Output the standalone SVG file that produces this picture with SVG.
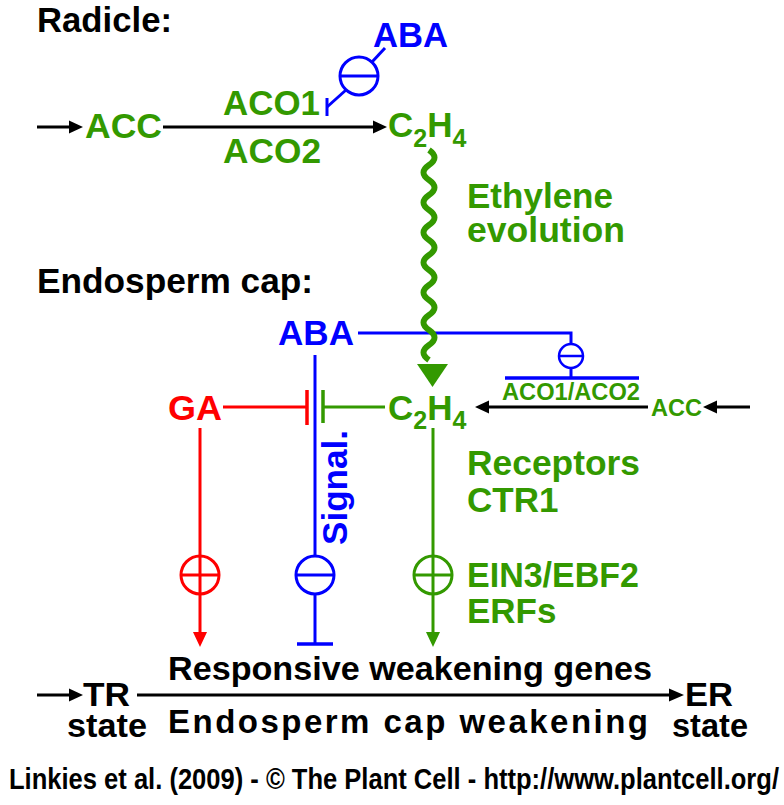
<svg xmlns="http://www.w3.org/2000/svg" width="784" height="805" viewBox="0 0 784 805">
<style>
text{font-family:"Liberation Sans",Arial,sans-serif;font-weight:bold}
.g{fill:#339900}.b{fill:#0000ff}.r{fill:#ff0000}.k{fill:#000}
.lg{stroke:#339900;fill:none;stroke-width:3}
.lb{stroke:#0000ff;fill:none;stroke-width:3}
.lr{stroke:#ff0000;fill:none;stroke-width:3}
.lk{stroke:#000;fill:none;stroke-width:3}
.bar{stroke-width:3.5}
.thin{stroke-width:2.5}
.wave{stroke-width:6}
.s35{font-size:35px}.s24{font-size:24px}.s33{font-size:33px}
</style>
<rect width="784" height="805" fill="#fff"/>
<g id="connectors">
  <line class="lk" x1="37" y1="127" x2="70" y2="127"/>
  <polygon points="69,120.5 83,127 69,133.5" fill="#000"/>
  <line class="lk" x1="163" y1="127" x2="375" y2="127"/>
  <polygon points="373,120.5 387,127 373,133.5" fill="#000"/>
  <line class="lb" x1="327" y1="98" x2="327" y2="116"/>
  <line class="lb" x1="327" y1="107" x2="346" y2="90"/>
  <circle class="lb" cx="359" cy="76" r="19"/>
  <line class="lb" x1="340" y1="76" x2="378" y2="76"/>
  <line class="lb" x1="372" y1="62" x2="385" y2="48"/>
  <polyline class="lb" points="358,333 571,333 571,344"/>
  <circle class="lb thin" cx="571" cy="356" r="12"/>
  <line class="lb thin" x1="559" y1="356" x2="583" y2="356"/>
  <line class="lb" x1="571" y1="368" x2="571" y2="378"/>
  <line class="lb bar" x1="505" y1="378" x2="639" y2="378"/>
  <path class="lg wave" d="M429,150 q11,7.5 0,15 t0,15 t0,15 t0,15 t0,15 t0,15 t0,15 t0,15 t0,15 t0,15 t0,15 t0,15 t0,15 t0,15"/>
  <polygon points="417,364 448,364 432.5,387" fill="#339900"/>
  <line class="lk" x1="750" y1="407" x2="716" y2="407"/>
  <polygon points="717,400.5 703,407 717,413.5" fill="#000"/>
  <line class="lk" x1="648" y1="407" x2="488" y2="407"/>
  <polygon points="489,400.5 475,407 489,413.5" fill="#000"/>
  <line class="lr" x1="223" y1="407" x2="307" y2="407"/>
  <line class="lr bar" x1="307" y1="390" x2="307" y2="425"/>
  <line class="lg" x1="385" y1="407" x2="323" y2="407"/>
  <line class="lg bar" x1="323" y1="390" x2="323" y2="423"/>
  <line class="lr" x1="200" y1="428" x2="200" y2="556"/>
  <line class="lb" x1="315" y1="355" x2="315" y2="556"/>
  <line class="lg" x1="433" y1="428" x2="433" y2="556"/>
  <circle class="lr" cx="200" cy="575" r="19"/>
  <line class="lr" x1="181" y1="575" x2="219" y2="575"/>
  <line class="lr" x1="200" y1="556" x2="200" y2="633"/>
  <polygon points="193,632 207,632 200,647" fill="#ff0000"/>
  <circle class="lb" cx="315" cy="575" r="19"/>
  <line class="lb" x1="296" y1="575" x2="334" y2="575"/>
  <line class="lb" x1="315" y1="594" x2="315" y2="644"/>
  <line class="lb bar" x1="297" y1="644" x2="333" y2="644"/>
  <circle class="lg" cx="433" cy="575" r="19"/>
  <line class="lg" x1="414" y1="575" x2="452" y2="575"/>
  <line class="lg" x1="433" y1="556" x2="433" y2="633"/>
  <polygon points="426,632 440,632 433,647" fill="#339900"/>
  <line class="lk" x1="37" y1="695" x2="70" y2="695"/>
  <polygon points="69,688.5 83,695 69,701.5" fill="#000"/>
  <line class="lk" x1="137" y1="695" x2="670" y2="695"/>
  <polygon points="669,688.5 684,695 669,701.5" fill="#000"/>
</g>
<g id="radicle-title"><text class="k s35" x="37" y="32" textLength="135" lengthAdjust="spacingAndGlyphs">Radicle:</text></g>
<g id="aba-top"><text class="b s35" x="373" y="47" textLength="75" lengthAdjust="spacingAndGlyphs">ABA</text></g>
<g id="acc-top"><text class="g s35" x="85" y="138" textLength="77" lengthAdjust="spacingAndGlyphs">ACC</text></g>
<g id="aco1"><text class="g s35" x="223" y="115" textLength="97" lengthAdjust="spacingAndGlyphs">ACO1</text></g>
<g id="aco2"><text class="g s35" x="223" y="163" textLength="98" lengthAdjust="spacingAndGlyphs">ACO2</text></g>
<g id="c2h4-top"><text class="g s35" x="388" y="137">C<tspan font-size="25" dy="10">2</tspan><tspan dy="-10">H</tspan><tspan font-size="25" dy="10">4</tspan></text></g>
<g id="ethylene"><text class="g s35" x="467" y="208" textLength="146" lengthAdjust="spacingAndGlyphs">Ethylene</text><text class="g s35" x="467" y="242" textLength="158" lengthAdjust="spacingAndGlyphs">evolution</text></g>
<g id="endo-title"><text class="k s35" x="37" y="293" textLength="276" lengthAdjust="spacingAndGlyphs">Endosperm cap:</text></g>
<g id="aba-endo"><text class="b s35" x="278" y="345" textLength="76" lengthAdjust="spacingAndGlyphs">ABA</text></g>
<g id="aco12"><text class="g s24" x="502" y="400" textLength="138" lengthAdjust="spacingAndGlyphs">ACO1/ACO2</text></g>
<g id="acc-endo"><text class="g s24" x="651" y="416" textLength="51" lengthAdjust="spacingAndGlyphs">ACC</text></g>
<g id="c2h4-endo"><text class="g s35" x="388" y="420">C<tspan font-size="25" dy="9">2</tspan><tspan dy="-9">H</tspan><tspan font-size="25" dy="9">4</tspan></text></g>
<g id="ga"><text class="r s35" x="168" y="420" textLength="54" lengthAdjust="spacingAndGlyphs">GA</text></g>
<g id="signal"><text class="b s35" transform="translate(347,545) rotate(-90)" textLength="115" lengthAdjust="spacingAndGlyphs">Signal.</text></g>
<g id="receptors"><text class="g s35" x="467" y="475" textLength="173" lengthAdjust="spacingAndGlyphs">Receptors</text><text class="g s35" x="467" y="512">CTR1</text></g>
<g id="ein3"><text class="g s35" x="467" y="587" textLength="172" lengthAdjust="spacingAndGlyphs">EIN3/EBF2</text><text class="g s35" x="467" y="623">ERFs</text></g>
<g id="genes"><text class="k s33" x="168" y="680" textLength="484" lengthAdjust="spacingAndGlyphs">Responsive weakening genes</text></g>
<g id="tr"><text class="k s33" x="83" y="706" textLength="47" lengthAdjust="spacingAndGlyphs">TR</text><text class="k s33" x="67" y="737" textLength="80" lengthAdjust="spacingAndGlyphs">state</text></g>
<g id="weakening"><text class="k s33" x="168" y="733" textLength="480">Endosperm cap weakening</text></g>
<g id="er"><text class="k s33" x="685" y="706" textLength="48" lengthAdjust="spacingAndGlyphs">ER</text><text class="k s33" x="672" y="737" textLength="76" lengthAdjust="spacingAndGlyphs">state</text></g>
<g id="footer"><text class="k" font-size="29" x="9" y="789" textLength="770" lengthAdjust="spacingAndGlyphs">Linkies et al. (2009) - © The Plant Cell - http://www.plantcell.org/</text></g>
</svg>
